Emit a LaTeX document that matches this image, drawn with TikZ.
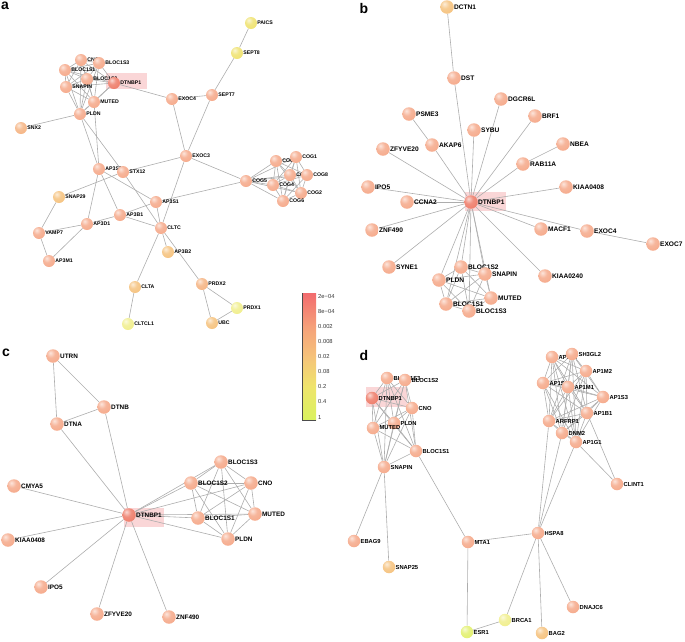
\documentclass[tikz,border=0pt]{standalone}
\usepackage{fontspec}
\setmainfont{Liberation Sans}
\pgfdeclarelayer{hl}\pgfdeclarelayer{bg}
\pgfsetlayers{hl,bg,main}
\makeatletter
\pgfdeclareradialshading[tikz@ball]{myball}{\pgfpoint{-10bp}{12bp}}{color(0bp)=(tikz@ball!30!white); color(16bp)=(tikz@ball!85!white); color(38bp)=(tikz@ball); color(55bp)=(tikz@ball!82!black); color(64bp)=(tikz@ball!50!black); color(100bp)=(tikz@ball!50!black)}
\makeatother
\definecolor{pk}{HTML}{F5A98A}
\definecolor{dt}{HTML}{EE7B68}
\definecolor{lo}{HTML}{F5C27E}
\definecolor{ly}{HTML}{EFE270}
\definecolor{py}{HTML}{F0EE8C}
\definecolor{yg}{HTML}{E2F06E}
\definecolor{po}{HTML}{F5B483}
\definecolor{edgec}{HTML}{ADADAD}
\definecolor{hlc}{HTML}{F9CFD0}
\definecolor{lg1}{HTML}{F26B6E}
\definecolor{lg2}{HTML}{F5A07A}
\definecolor{lg3}{HTML}{F5C27A}
\definecolor{lg4}{HTML}{EFE46C}
\definecolor{lg5}{HTML}{D9F25E}
\tikzset{
 gn/.style={circle, inner sep=0pt, shading=myball, draw=none},
 edge/.style={draw=edgec, line width=0.6pt},
 lab/.style={inner sep=0.5pt, xshift=-0.5pt, text=black},
 hlbox/.style={fill=hlc, draw=none, opacity=0.85},
 letter/.style={font=\bfseries\fontsize{14}{14}\selectfont, inner sep=0pt},
 leglab/.style={anchor=west, inner sep=0pt, text=black!80, font=\fontsize{5.8}{6}\selectfont},
}
\newcommand\GN[4]{\node[ball color=#3, gn, label={[lab]0:#4}] (#1) at (#2) {};}
\newcommand\cliq[1]{\foreach \u [count=\i] in {#1}{\foreach \v [count=\j] in {#1}{\ifnum\j>\i \draw[edge] (\u)--(\v);\fi}}}
\begin{document}
\begin{tikzpicture}[x=1pt,y=-1pt]
\useasboundingbox (0,0) rectangle (685,641);
% ---------- panel letters
\node[letter] (la) at (5,6) {a};
\node[letter] (lb) at (364,8) {b};
\node[letter] (lc) at (6,353) {c};
\node[letter] (ld) at (364,355) {d};
% ---------- highlights
\begin{pgfonlayer}{hl}
\fill[hlbox] (106,73) rectangle (147,89);
\fill[hlbox] (465,192) rectangle (506,211);
\fill[hlbox] (124,508) rectangle (164,527);
\fill[hlbox] (366,387) rectangle (407,407);
\end{pgfonlayer}
% ---------- panel a
\begin{scope}[gn/.append style={minimum size=12pt}, lab/.append style={font=\bfseries\fontsize{5.2}{6}\selectfont}]
\GN{aCNO}{81,60}{pk}{CNO}
\GN{aS3}{99,63}{pk}{BLOC1S3}
\GN{aS1}{65,70}{pk}{BLOC1S1}
\GN{aS2}{87,79}{pk}{BLOC1S2}
\GN{aDT}{114,83}{dt}{DTNBP1}
\GN{aSN}{66,87}{pk}{SNAPIN}
\GN{aMU}{94,102}{pk}{MUTED}
\GN{aPL}{80,114}{pk}{PLDN}
\GN{aSNX}{21,128}{po}{SNX2}
\GN{aE4}{172,99}{pk}{EXOC4}
\GN{aS7}{212,95}{pk}{SEPT7}
\GN{aS8}{237,53}{ly}{SEPT8}
\GN{aPA}{251,23}{ly}{PAICS}
\GN{aE3}{186,156}{pk}{EXOC3}
\GN{aAS2}{99,169}{pk}{AP3S2}
\GN{aSTX}{123,172}{pk}{STX12}
\GN{aSNP}{59,197}{lo}{SNAP29}
\GN{aAS1}{156,202}{pk}{AP3S1}
\GN{aAB1}{120,215}{pk}{AP3B1}
\GN{aAD1}{87,224}{pk}{AP3D1}
\GN{aVA}{39,233}{pk}{VAMP7}
\GN{aCL}{161,228}{pk}{CLTC}
\GN{aAM1}{49,261}{pk}{AP3M1}
\GN{aAB2}{168,252}{lo}{AP3B2}
\GN{aCLA}{135,287}{lo}{CLTA}
\GN{aCL1}{128,324}{py}{CLTCL1}
\GN{aC5}{246,181}{pk}{COG5}
\GN{aC7}{276,161}{pk}{COG7}
\GN{aC1}{296,157}{pk}{COG1}
\GN{aC3}{290,175}{pk}{COG3}
\GN{aC8}{307,175}{pk}{COG8}
\GN{aC4}{273,185}{pk}{COG4}
\GN{aC2}{301,193}{pk}{COG2}
\GN{aC6}{283,201}{pk}{COG6}
\GN{aPR2}{202,284}{po}{PRDX2}
\GN{aPR1}{237,308}{py}{PRDX1}
\GN{aUBC}{212,323}{lo}{UBC}
\end{scope}
% ---------- panel b
\begin{scope}[gn/.append style={minimum size=13.5pt}, lab/.append style={font=\bfseries\fontsize{6.6}{7}\selectfont}]
\GN{bDC}{447,7}{lo}{DCTN1}
\GN{bDST}{454,78}{pk}{DST}
\GN{bDG}{501,99}{pk}{DGCR6L}
\GN{bPS}{409,114}{pk}{PSME3}
\GN{bBR}{535,116}{pk}{BRF1}
\GN{bSY}{474,130}{pk}{SYBU}
\GN{bAK}{432,145}{pk}{AKAP6}
\GN{bZF}{383,149}{pk}{ZFYVE20}
\GN{bNB}{563,144}{pk}{NBEA}
\GN{bRA}{523,164}{pk}{RAB11A}
\GN{bIP}{368,187}{pk}{IPO5}
\GN{bKI}{566,187}{pk}{KIAA0408}
\GN{bDT}{471,202}{dt}{DTNBP1}
\GN{bCC}{407,202}{pk}{CCNA2}
\GN{bZN}{372,230}{pk}{ZNF490}
\GN{bMA}{541,229}{pk}{MACF1}
\GN{bE4}{587,231}{pk}{EXOC4}
\GN{bE7}{653,244}{pk}{EXOC7}
\GN{bSYN}{389,267}{pk}{SYNE1}
\GN{bS2}{461,267}{pk}{BLOC1S2}
\GN{bSN}{485,274}{pk}{SNAPIN}
\GN{bPL}{439,280}{pk}{PLDN}
\GN{bKI2}{545,276}{pk}{KIAA0240}
\GN{bMU}{491,298}{pk}{MUTED}
\GN{bS1}{446,304}{pk}{BLOC1S1}
\GN{bS3}{469,311}{pk}{BLOC1S3}
\end{scope}
% ---------- panel c
\begin{scope}[gn/.append style={minimum size=13.5pt}, lab/.append style={font=\bfseries\fontsize{6.4}{7}\selectfont}]
\GN{cUT}{53,356}{pk}{UTRN}
\GN{cDB}{104,407}{pk}{DTNB}
\GN{cDA}{57,424}{pk}{DTNA}
\GN{cS3}{221,462}{pk}{BLOC1S3}
\GN{cS2}{191,483}{pk}{BLOC1S2}
\GN{cCNO}{251,483}{pk}{CNO}
\GN{cCM}{14,486}{pk}{CMYA5}
\GN{cDT}{129,515}{dt}{DTNBP1}
\GN{cS1}{198,518}{pk}{BLOC1S1}
\GN{cMU}{255,514}{pk}{MUTED}
\GN{cPL}{228,539}{pk}{PLDN}
\GN{cKI}{8,540}{pk}{KIAA0408}
\GN{cIP}{41,587}{pk}{IPO5}
\GN{cZF}{97,614}{pk}{ZFYVE20}
\GN{cZN}{169,617}{pk}{ZNF490}
\end{scope}
% ---------- panel d
\begin{scope}[gn/.append style={minimum size=12.5pt}, lab/.append style={font=\bfseries\fontsize{5.8}{6}\selectfont}]
\GN{dS3}{387,378}{pk}{BLOC1S3}
\GN{dS2}{405,380}{pk}{BLOC1S2}
\GN{dDT}{372,398}{dt}{DTNBP1}
\GN{dCNO}{412,408}{pk}{CNO}
\GN{dPL}{394,423}{pk}{PLDN}
\GN{dMU}{373,428}{pk}{MUTED}
\GN{dS1}{416,451}{pk}{BLOC1S1}
\GN{dSN}{384,467}{pk}{SNAPIN}
\GN{dAS1}{552,357}{pk}{AP1S1}
\GN{dSH}{572,354}{pk}{SH3GL2}
\GN{dAM2}{586,371}{pk}{AP1M2}
\GN{dAS2}{543,383}{pk}{AP1S2}
\GN{dAM1}{568,387}{pk}{AP1M1}
\GN{dAS3}{603,397}{pk}{AP1S3}
\GN{dAB1}{587,413}{pk}{AP1B1}
\GN{dAR}{549,421}{pk}{ARFRP1}
\GN{dDN}{562,433}{pk}{DNM2}
\GN{dAG1}{576,442}{pk}{AP1G1}
\GN{dCLI}{617,484}{pk}{CLINT1}
\GN{dHS}{538,533}{pk}{HSPA8}
\GN{dMT}{468,542}{pk}{MTA1}
\GN{dEB}{354,541}{pk}{EBAG9}
\GN{dSP}{389,567}{lo}{SNAP25}
\GN{dDJ}{573,607}{pk}{DNAJC6}
\GN{dBR}{505,620}{py}{BRCA1}
\GN{dES}{467,632}{yg}{ESR1}
\GN{dBA}{542,633}{lo}{BAG2}
\end{scope}
% ---------- edges
\begin{pgfonlayer}{bg}
% a
\cliq{aCNO,aS3,aS1,aS2,aDT,aSN,aMU,aPL}
\cliq{aC5,aC7,aC1,aC3,aC8,aC4,aC2,aC6}
\foreach \u/\v in {aDT/aE4, aE4/aS7, aS7/aS8, aS8/aPA, aE4/aE3, aS7/aE3,
  aSNX/aPL, aPL/aAS2, aPL/aSTX, aMU/aAS2, aSTX/aE3, aSNP/aSTX, aSNP/aVA,
  aVA/aAD1, aVA/aAM1, aAM1/aAD1, aAD1/aAB1, aAD1/aAS2, aAB1/aAS2, aAS1/aAS2,
  aAB1/aAS1, aAB1/aCL, aAS1/aCL, aSTX/aCL, aAS1/aC5, aE3/aC5, aE3/aCL,
  aCL/aAB2, aCL/aCLA, aCLA/aCL1, aCL/aPR2, aPR2/aPR1, aPR2/aUBC, aPR1/aUBC}
  {\draw[edge] (\u)--(\v);}
% b
\cliq{bS2,bSN,bPL,bMU,bS1,bS3}
\foreach \v in {bDST,bDG,bBR,bSY,bAK,bZF,bRA,bIP,bKI,bCC,bZN,bMA,bE4,bSYN,bKI2,bS2,bSN,bPL,bMU,bS1,bS3}
  {\draw[edge] (bDT)--(\v);}
\foreach \u/\v in {bDC/bDST, bPS/bAK, bNB/bRA, bE4/bE7}
  {\draw[edge] (\u)--(\v);}
% c
\cliq{cS3,cS2,cCNO,cS1,cMU,cPL}
\foreach \v in {cDB,cDA,cCM,cKI,cIP,cZF,cZN,cS3,cS2,cCNO,cS1,cMU,cPL}
  {\draw[edge] (cDT)--(\v);}
\foreach \u/\v in {cUT/cDA, cUT/cDB, cDA/cDB}
  {\draw[edge] (\u)--(\v);}
% d
\cliq{dS3,dS2,dDT,dCNO,dPL,dMU,dS1,dSN}
\cliq{dAS1,dSH,dAM2,dAS2,dAM1,dAS3,dAB1,dAR,dDN,dAG1}
\foreach \u/\v in {dSN/dEB, dSN/dSP, dS1/dMT, dMT/dHS, dMT/dES, dES/dBR, dBR/dHS,
  dHS/dBA, dHS/dDJ, dHS/dAR, dHS/dDN, dHS/dAG1, dCLI/dAG1, dCLI/dAB1}
  {\draw[edge] (\u)--(\v);}
\end{pgfonlayer}
% ---------- legend
\shade[top color=lg1, bottom color=lg2] (302,293) rectangle (316,326.5);
\shade[top color=lg2, bottom color=lg3] (302,326) rectangle (316,356.5);
\shade[top color=lg3, bottom color=lg4] (302,356) rectangle (316,386.5);
\shade[top color=lg4, bottom color=lg5] (302,386) rectangle (316,420);
\coordinate (lgTL) at (302,293);
\coordinate (lgBL) at (302,420);
\coordinate (lgBR) at (316,420);
\draw[black!70, line width=0.6pt] (lgTL) -- (lgBL) -- (lgBR);
\node[leglab] (l1) at (318,296) {2e−04};
\node[leglab] (l2) at (318,311) {8e−04};
\node[leglab] (l3) at (318,326) {0.002};
\node[leglab] (l4) at (318,341) {0.008};
\node[leglab] (l5) at (318,356) {0.02};
\node[leglab] (l6) at (318,371) {0.08};
\node[leglab] (l7) at (318,386) {0.2};
\node[leglab] (l8) at (318,401) {0.4};
\node[leglab] (l9) at (318,417) {1};
\end{tikzpicture}
\end{document}
